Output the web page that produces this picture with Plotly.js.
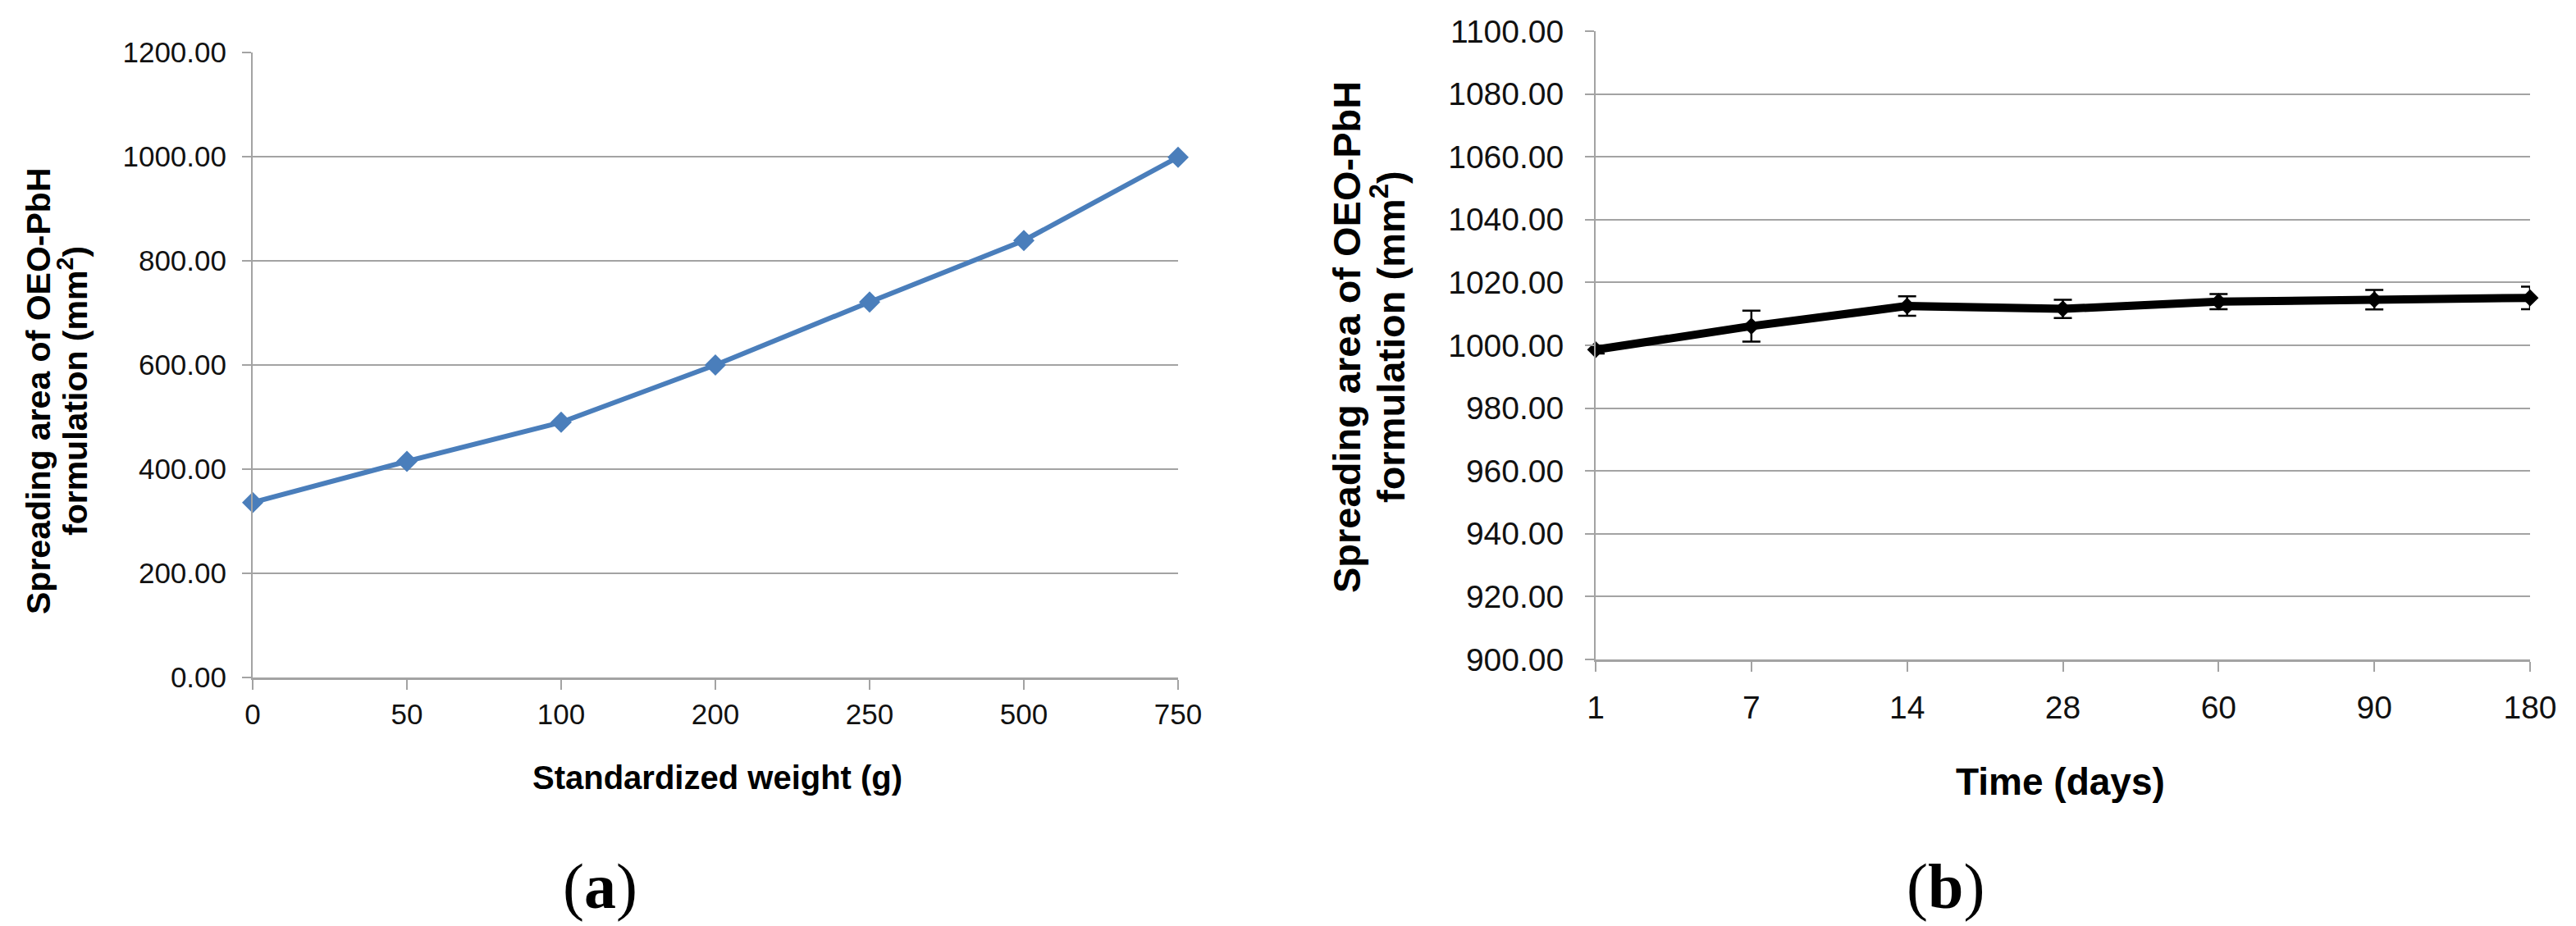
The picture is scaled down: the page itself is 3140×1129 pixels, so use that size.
<!DOCTYPE html>
<html>
<head>
<meta charset="utf-8">
<script src="https://cdn.plot.ly/plotly-3.0.1.min.js"></script>
<style>
  html, body { margin: 0; padding: 0; background: #fff; }
  #chart { width: 3140px; height: 1129px; }
</style>
</head>
<body>
<div id="chart"></div>
<script>
// (a) spreading area vs. standardized weight
const weightLabels = ['0', '50', '100', '200', '250', '500', '750'];
const spreadArea = [336, 415, 490, 600, 721, 839, 999];

// (b) spreading area over storage time
const dayLabels = ['1', '7', '14', '28', '60', '90', '180'];
const stabilityArea = [998.6, 1006.1, 1012.5, 1011.6, 1013.9, 1014.5, 1015.1];
const stabilitySD = [1.2, 4.9, 3.1, 2.9, 2.4, 3.1, 3.6];

const W = 3140, H = 1129;
const px = x => x / W;
const py = y => 1 - y / H;

const GRID = '#a3a3a3';
const TICK_FONT = 'Liberation Sans, Arial, sans-serif';
const SERIF = 'Liberation Serif, Times New Roman, serif';

const traces = [
  {
    x: weightLabels, y: spreadArea, xaxis: 'x', yaxis: 'y',
    type: 'scatter', mode: 'lines+markers', cliponaxis: false,
    line: { color: '#4a7ebb', width: 6 },
    marker: { symbol: 'diamond', size: 20, color: '#4a7ebb' }
  },
  {
    x: dayLabels, y: stabilityArea, xaxis: 'x2', yaxis: 'y2',
    type: 'scatter', mode: 'lines+markers', cliponaxis: false,
    line: { color: '#000', width: 10 },
    marker: { symbol: 'diamond', size: 16, color: '#000' },
    error_y: { type: 'data', array: stabilitySD, visible: true, color: '#000', thickness: 2.5, width: 11 }
  }
];

function xAxis(domain, cats, size, anchor, standoff) {
  return {
    domain: domain, anchor: anchor, type: 'category', categoryorder: 'array', categoryarray: cats,
    range: [0, cats.length - 1], fixedrange: true,
    showgrid: false, zeroline: false,
    showline: true, linecolor: GRID, linewidth: 3,
    ticks: 'outside', ticklen: 12, tickwidth: 2, tickcolor: GRID,
    ticklabelstandoff: standoff,
    tickfont: { family: TICK_FONT, size: size, color: '#111' }
  };
}

function yAxis(domain, range, dtick, size, anchor, standoff) {
  return {
    domain: domain, anchor: anchor, range: range, dtick: dtick, tickformat: '.2f', fixedrange: true,
    showgrid: true, gridcolor: GRID, gridwidth: 2, zeroline: false,
    showline: true, linecolor: GRID, linewidth: 2,
    ticks: 'outside', ticklen: 11, tickwidth: 2, tickcolor: GRID,
    ticklabelstandoff: standoff,
    tickfont: { family: TICK_FONT, size: size, color: '#111' }
  };
}

function note(x, y, text, size, opts) {
  return Object.assign({
    xref: 'paper', yref: 'paper', x: px(x), y: py(y),
    xanchor: 'center', yanchor: 'middle', showarrow: false, text: text,
    font: { family: 'Liberation Sans, Arial, sans-serif', size: size, color: '#000' }
  }, opts || {});
}

const layout = {
  width: W, height: H,
  margin: { l: 0, r: 0, t: 0, b: 0 },
  paper_bgcolor: '#fff', plot_bgcolor: '#fff',
  showlegend: false,
  xaxis: xAxis([px(308), px(1436)], weightLabels, 35, 'y', 0),
  yaxis: yAxis([py(826), py(64)], [0, 1200], 200, 35, 'x', 12),
  xaxis2: xAxis([px(1945), px(3084)], dayLabels, 39, 'y2', 10),
  yaxis2: yAxis([py(804), py(38)], [900, 1100], 20, 39, 'x2', 18),
  annotations: [
    note(47, 477, '<b>Spreading area of OEO-PbH</b>', 41, { textangle: -90 }),
    note(89, 477, '<b>formulation (mm<sup>2</sup>)</b>', 41, { textangle: -90 }),
    note(874, 948, '<b>Standardized weight (g)</b>', 40),
    note(1641, 411, '<b>Spreading area of OEO-PbH</b>', 47, { textangle: -90 }),
    note(1692, 411, '<b>formulation (mm<sup>2</sup>)</b>', 47, { textangle: -90 }),
    note(2511, 953, '<b>Time (days)</b>', 46),
    note(731, 1080, '(<b>a</b>)', 78, { font: { family: SERIF, size: 78, color: '#000' } }),
    note(2371, 1080, '(<b>b</b>)', 78, { font: { family: SERIF, size: 78, color: '#000' } })
  ]
};

Plotly.newPlot('chart', traces, layout, { displayModeBar: false, staticPlot: true });
</script>
</body>
</html>
